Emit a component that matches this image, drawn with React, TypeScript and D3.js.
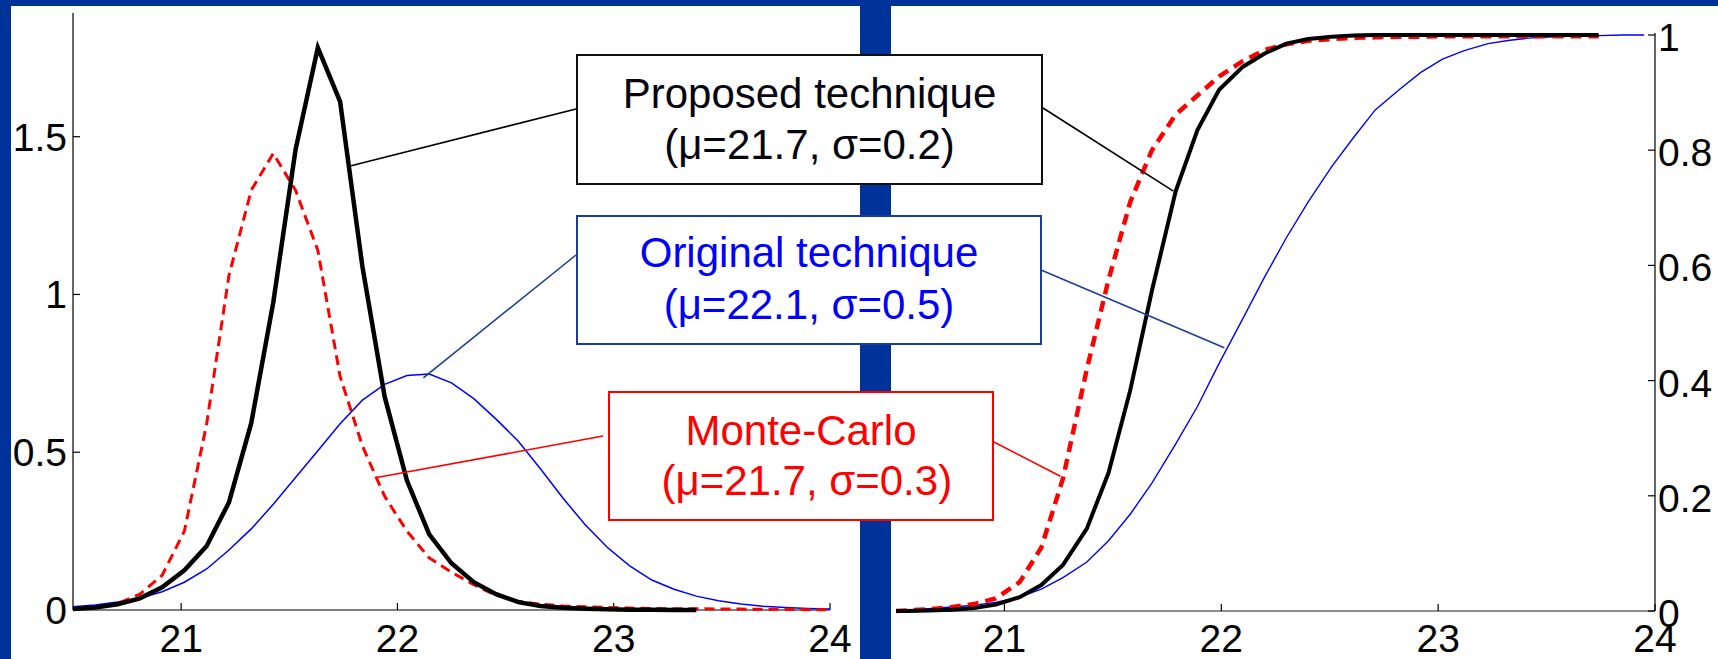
import React from "react";
import * as d3 from "d3";

// ---------- data ----------
const pdfX = [20.5, 20.603, 20.706, 20.809, 20.912, 21.015, 21.118, 21.221, 21.324, 21.426, 21.529, 21.632, 21.735, 21.838, 21.941, 22.044, 22.147, 22.25, 22.353, 22.456, 22.559, 22.662, 22.765, 22.868, 22.971, 23.074, 23.176, 23.279, 23.382, 23.485, 23.588, 23.691, 23.794, 23.897, 24.0];
const pdfProposed = [0.003, 0.008, 0.018, 0.037, 0.072, 0.126, 0.203, 0.341, 0.592, 0.975, 1.459, 1.782, 1.611, 1.089, 0.676, 0.41, 0.24, 0.148, 0.088, 0.05, 0.025, 0.013, 0.007, 0.004, 0.002, 0.001, 0.001, 0.0, 0.0];
const pdfOriginal = [0.01, 0.016, 0.025, 0.037, 0.058, 0.088, 0.13, 0.19, 0.257, 0.335, 0.42, 0.505, 0.59, 0.665, 0.715, 0.743, 0.748, 0.72, 0.67, 0.605, 0.535, 0.447, 0.355, 0.27, 0.198, 0.14, 0.095, 0.066, 0.044, 0.029, 0.019, 0.012, 0.008, 0.005, 0.003];
const pdfMonteCarlo = [0.004, 0.008, 0.02, 0.05, 0.11, 0.25, 0.59, 1.06, 1.33, 1.447, 1.33, 1.14, 0.74, 0.52, 0.36, 0.25, 0.165, 0.12, 0.08, 0.047, 0.028, 0.018, 0.013, 0.01, 0.008, 0.006, 0.005, 0.004, 0.004, 0.003, 0.003, 0.002, 0.002, 0.001, 0.001];

const cdfX = [20.5, 20.55, 20.65, 20.76, 20.86, 20.96, 21.07, 21.17, 21.27, 21.38, 21.48, 21.58, 21.68, 21.79, 21.89, 21.99, 22.1, 22.2, 22.3, 22.4, 22.51, 22.61, 22.71, 22.82, 22.92, 23.02, 23.12, 23.23, 23.33, 23.43, 23.54, 23.64, 23.74, 23.85, 23.95];
const cdfProposed = [0.0, 0.0, 0.001, 0.002, 0.005, 0.011, 0.024, 0.045, 0.08, 0.143, 0.24, 0.383, 0.556, 0.729, 0.835, 0.905, 0.945, 0.968, 0.985, 0.993, 0.997, 0.999, 1.0, 1.0, 1.0, 1.0, 1.0, 1.0, 1.0, 1.0, 1.0, 1.0, 1.0];
const cdfOriginal = [0.001, 0.002, 0.004, 0.007, 0.01, 0.015, 0.024, 0.038, 0.058, 0.085, 0.122, 0.168, 0.222, 0.29, 0.355, 0.43, 0.508, 0.58, 0.648, 0.71, 0.772, 0.822, 0.87, 0.905, 0.935, 0.958, 0.973, 0.985, 0.991, 0.995, 0.997, 0.998, 0.999, 1.0, 1.0];
const cdfMonteCarlo = [0.0, 0.001, 0.003, 0.007, 0.012, 0.022, 0.05, 0.11, 0.23, 0.42, 0.575, 0.71, 0.8, 0.862, 0.895, 0.928, 0.955, 0.974, 0.984, 0.99, 0.993, 0.995, 0.996, 0.997, 0.997, 0.998, 0.998, 0.998, 0.998, 0.998, 0.998, 0.998, 0.998];

const xTicks = [21, 22, 23, 24];
const pdfYTicks = [0, 0.5, 1, 1.5];
const cdfYTicks = [0, 0.2, 0.4, 0.6, 0.8, 1];

const legendTitles = ["Proposed technique", "Original technique", "Monte-Carlo"];
const legendParams = ["(\u03bc=21.7, \u03c3=0.2)", "(\u03bc=22.1, \u03c3=0.5)", " (\u03bc=21.7, \u03c3=0.3)"];
// anchor points on curves (data coords) for the leader lines
const pdfAnchors = [[21.786, 1.408], [22.12, 0.736], [21.898, 0.419]];
const cdfAnchors = [[21.779, 0.729], [22.014, 0.457], [21.258, 0.234]];

// ---------- style ----------
const NAVY = "#003399";
const FONT = "'Liberation Sans', Arial, Helvetica, sans-serif";
const W = 1718;
const H = 659;

export default function App() {
  const xL = d3.scaleLinear().domain([20.5, 24]).range([73, 830]);
  const yL = d3.scaleLinear().domain([0, 1.892]).range([610, 13]);
  const xR = d3.scaleLinear().domain([20.5, 24]).range([896, 1655]);
  const yR = d3.scaleLinear().domain([0, 1]).range([611, 35]);

  const lineL = (ys: number[]) =>
    d3.line<number>().x((_, i) => xL(pdfX[i])).y((d) => yL(d))(ys) || "";
  const lineR = (ys: number[]) =>
    d3.line<number>().x((_, i) => xR(cdfX[i])).y((d) => yR(d))(ys) || "";

  const boxes = [
    { x: 577, y: 55, w: 465, h: 129, stroke: "#111", text: "#05050f", b1: 108, b2: 159, leftY: 109, rightY: 108, lineColor: "#000", leftEnd: 576, rightStart: 1043 },
    { x: 577, y: 216, w: 464, h: 128, stroke: "#1a3d99", text: "#0000ff", b1: 267, b2: 319, leftY: 255, rightY: 270, lineColor: "#1c3f94", leftEnd: 576, rightStart: 1041 },
    { x: 609, y: 392, w: 384, h: 128, stroke: "#ff0000", text: "#ff0000", b1: 445, b2: 495, leftY: 436, rightY: 440, lineColor: "#ff0000", leftEnd: 603, rightStart: 990 },
  ];

  const fs = 39;

  return (
    <svg
      width={W}
      height={H}
      style={{ position: "absolute", left: 0, top: 0, display: "block" }}
      fontFamily={FONT}
    >
      <rect x={0} y={0} width={W} height={H} fill="#fff" />
      {/* navy frame */}
      <rect x={0} y={0} width={W} height={6} fill={NAVY} />
      <rect x={0} y={0} width={11} height={H} fill={NAVY} />
      <rect x={860} y={0} width={31} height={H} fill={NAVY} />

      {/* ---------- left panel (PDF) ---------- */}
      <g>
        <line x1={73} x2={73} y1={yL(1.892)} y2={yL(0)} stroke="#000" strokeWidth={1.2} />
        <line x1={73} x2={830} y1={yL(0)} y2={yL(0)} stroke="#555" strokeWidth={1.5} />
        {pdfYTicks.map((t) => (
          <g key={"ly" + t}>
            <line x1={73} x2={80} y1={yL(t)} y2={yL(t)} stroke="#000" strokeWidth={1.2} />
            <text x={67} y={yL(t) + 14} fontSize={fs} textAnchor="end" fill="#000">
              {String(t)}
            </text>
          </g>
        ))}
        {xTicks.map((t) => (
          <g key={"lx" + t}>
            <line x1={xL(t)} x2={xL(t)} y1={yL(0)} y2={yL(0) - 7} stroke="#000" strokeWidth={1.2} />
            <text x={xL(t)} y={652} fontSize={fs} textAnchor="middle" fill="#000">
              {String(t)}
            </text>
          </g>
        ))}
        <path d={lineL(pdfOriginal)} fill="none" stroke="#0000ff" strokeWidth={1.5} />
        <path d={lineL(pdfMonteCarlo)} fill="none" stroke="#ff0000" strokeWidth={3} strokeDasharray="10 6" />
        <path d={lineL(pdfProposed)} fill="none" stroke="#000" strokeWidth={4.5} strokeLinejoin="miter" />
      </g>

      {/* ---------- right panel (CDF) ---------- */}
      <g>
        <line x1={1655} x2={1655} y1={33} y2={yR(0)} stroke="#000" strokeWidth={1.2} />
        <line x1={896} x2={1655} y1={yR(0)} y2={yR(0)} stroke="#666" strokeWidth={1.6} />
        {cdfYTicks.map((t) => (
          <g key={"ry" + t}>
            <line x1={1648} x2={1655} y1={yR(t)} y2={yR(t)} stroke="#000" strokeWidth={1.2} />
            <text x={1658} y={yR(t) + 16} fontSize={fs} textAnchor="start" fill="#000">
              {String(t)}
            </text>
          </g>
        ))}
        {xTicks.map((t) => (
          <g key={"rx" + t}>
            <line x1={xR(t)} x2={xR(t)} y1={yR(0)} y2={yR(0) - 7} stroke="#000" strokeWidth={1.2} />
            <text x={xR(t)} y={652} fontSize={fs} textAnchor="middle" fill="#000">
              {String(t)}
            </text>
          </g>
        ))}
        <path d={lineR(cdfOriginal)} fill="none" stroke="#0000ff" strokeWidth={1.4} />
        <path d={lineR(cdfMonteCarlo)} fill="none" stroke="#ff0000" strokeWidth={4.5} strokeDasharray="11 7" />
        <path d={lineR(cdfProposed)} fill="none" stroke="#000" strokeWidth={4} />
      </g>

      {/* ---------- leader lines ---------- */}
      {boxes.map((b, i) => (
        <g key={"ld" + i}>
          <line
            x1={xL(pdfAnchors[i][0])}
            y1={yL(pdfAnchors[i][1])}
            x2={b.leftEnd}
            y2={b.leftY}
            stroke={b.lineColor}
            strokeWidth={1.6}
          />
          <line
            x1={b.rightStart}
            y1={b.rightY}
            x2={xR(cdfAnchors[i][0])}
            y2={yR(cdfAnchors[i][1])}
            stroke={b.lineColor}
            strokeWidth={1.6}
          />
        </g>
      ))}

      {/* ---------- legend boxes ---------- */}
      {boxes.map((b, i) => (
        <g key={"bx" + i}>
          <rect x={b.x} y={b.y} width={b.w} height={b.h} fill="#fff" stroke={b.stroke} strokeWidth={2} />
          <text x={b.x + b.w / 2} y={b.b1} fontSize={42} textAnchor="middle" fill={b.text} style={{ whiteSpace: "pre" }}>
            {legendTitles[i]}
          </text>
          <text x={b.x + b.w / 2} y={b.b2} fontSize={42} textAnchor="middle" fill={b.text} style={{ whiteSpace: "pre" }}>
            {legendParams[i]}
          </text>
        </g>
      ))}
    </svg>
  );
}
